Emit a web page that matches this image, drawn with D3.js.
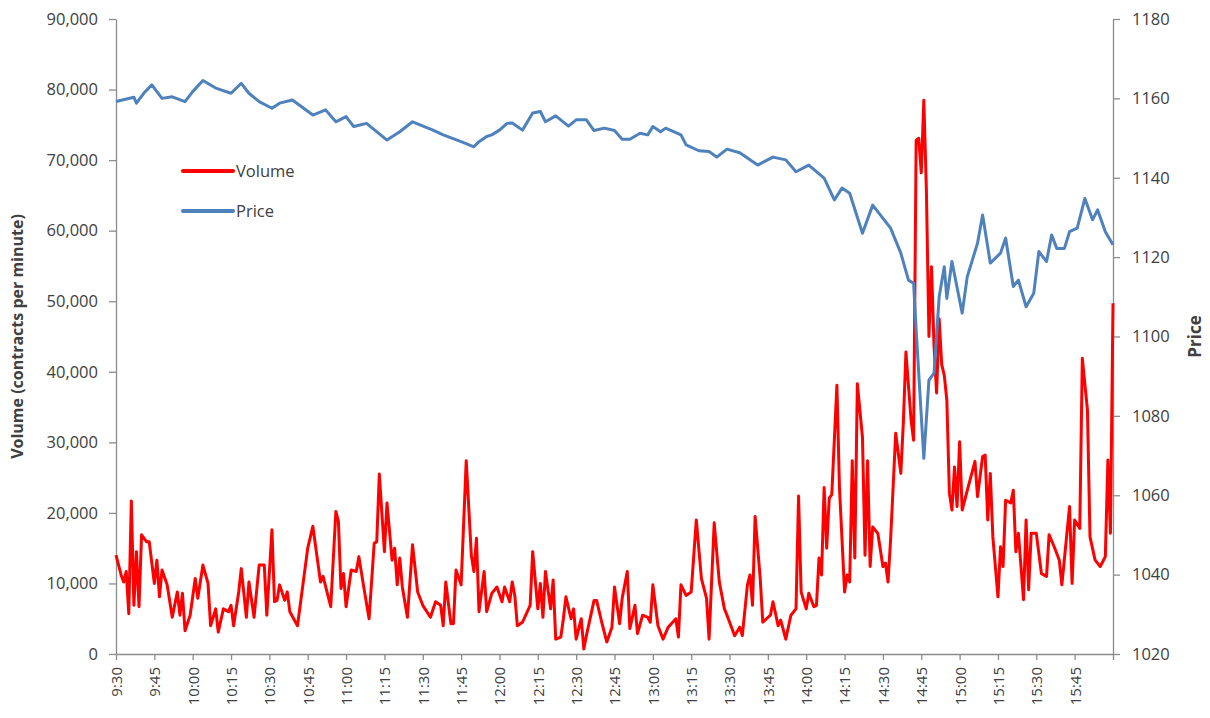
<!DOCTYPE html>
<html><head><meta charset="utf-8">
<script src="https://cdn.jsdelivr.net/npm/d3@7"></script>
<style>
body{margin:0;background:#fff}
svg{display:block}
text{font-family:"Open Sans","Liberation Sans",sans-serif;fill:#404040}
</style>
</head><body>
<svg id="chart" width="1210" height="718"></svg>
<script>
// ---- DATA ----
// x-axis tick labels (every 15 minutes from the 9:30 open)
const timeTickLabels = ["9:30","9:45","10:00","10:15","10:30","10:45","11:00","11:15","11:30","11:45","12:00","12:15","12:30","12:45","13:00","13:15","13:30","13:45","14:00","14:15","14:30","14:45","15:00","15:15","15:30","15:45"];
const volumeTicks = [0,10000,20000,30000,40000,50000,60000,70000,80000,90000];
const priceTicks = [1020,1040,1060,1080,1100,1120,1140,1160,1180];

// Volume series: minutes after 9:30, contracts per minute
const volumeMinutes = [0,2,3,4,5,6,7,8,9,10,12,13,15,16,17,18,20,22,24,25,26,27,29,31,32,34,36,37,39,40,42,44,45,46,48,49,51,52,54,56,58,59,61,62,63,64,66,67,68,71,75,77,80,81,84,86,87,88,89,90,92,94,95,97,99,101,102,103,105,106,108,109,110,111,112,114,116,118,120,123,125,127,128,129,131,132,133,135,137,139,140,141,142,144,145,147,149,151,152,154,155,156,157,159,162,163,165,166,167,168,170,171,172,174,175,176,178,179,180,182,183,184,187,188,190,192,194,195,197,198,200,201,203,204,206,208,209,210,212,214,216,219,220,221,223,225,227,229,231,232,234,236,238,239,242,244,245,247,248,249,250,252,253,256,257,259,260,262,264,266,267,268,270,271,273,274,275,276,277,278,279,280,282,283,285,286,287,288,289,290,292,293,294,295,296,298,300,301,302,303,305,307,308,309,311,312,313,314,315,316,317,318,319,320,321,322,323,324,325,326,327,328,329,330,331,333,336,337,339,340,341,342,343,345,346,347,348,350,351,352,353,355,356,357,358,360,362,364,365,367,369,370,373,374,375,377,378,380,381,383,385,387,388,389,390];
const volumeValues = [14000,11200,10200,11700,5700,21700,6900,14500,6700,16900,15900,15900,10000,13300,8100,11900,9800,5200,8800,5500,8600,3300,5500,10700,7900,12600,10000,4000,6400,3100,6400,6000,6900,4000,8800,12100,5200,10200,5200,12600,12600,5500,17600,7400,7600,9800,7600,8800,6000,4000,15000,18100,10200,11000,6700,20200,18800,9300,11400,6700,11900,11700,13800,9300,5000,15700,15900,25500,14500,21400,13300,15000,9800,13600,9500,5200,15500,8800,6900,5200,7400,6900,4000,10200,4300,4300,11900,9800,27400,14000,11700,16400,6000,11700,6000,8600,9500,7400,9500,7400,10200,8300,4000,4500,6900,14500,6400,10000,5200,11700,6400,10500,2100,2400,5000,8100,5000,6400,2100,5000,700,2600,7600,7600,4500,1700,3800,9500,4300,7900,11700,3600,6900,2900,5500,5200,4500,9800,4000,2100,3800,5000,2400,9800,8300,8800,19000,10700,7900,2100,18600,10200,6400,5500,2600,3800,2600,9800,11200,6900,19500,10700,4500,5500,7400,4000,4800,2100,5500,6400,22400,8800,6400,8600,6700,6900,13600,11200,23600,15000,22100,22600,38100,23600,8800,11200,10200,27400,13600,38300,30700,14000,27400,12400,18000,17100,12400,12900,10200,16200,31300,25600,32900,42800,33200,30300,72800,73100,68200,78500,65800,45000,54900,43600,37000,47500,41000,39500,36000,22800,20400,26500,20900,30100,20400,23200,27300,22300,28000,28200,19000,25600,16600,8100,15200,12400,21800,21400,23200,14500,17100,7700,19000,9100,17100,17100,11400,11000,16900,15200,13300,9800,20900,10000,19000,17800,41900,34600,16600,13300,12400,13800,27500,17100,49700];

// Price series: minutes after 9:30, index level
const priceMinutes = [0,7,8,11,14,18,22,27,30,34,39,45,49,52,56,61,64,69,77,82,86,90,93,98,106,111,116,124,128,135,140,142,145,147,150,153,155,159,163,166,168,172,177,180,184,187,191,195,198,201,205,208,210,213,215,221,223,228,232,235,239,244,251,257,262,266,271,277,281,284,287,292,296,303,307,310,312,313,316,318,320,322,324,325,327,331,333,337,339,342,346,348,351,353,356,359,361,364,366,368,371,373,376,379,382,384,387,390];
const priceValues = [1159.2,1160.3,1158.8,1161.4,1163.4,1160,1160.4,1159.2,1161.7,1164.5,1162.6,1161.3,1163.8,1161.3,1159.2,1157.5,1158.8,1159.6,1155.8,1157.1,1154.1,1155.4,1152.9,1153.7,1149.5,1151.6,1154.1,1152,1150.8,1149.1,1147.8,1149.1,1150.4,1150.8,1152,1153.7,1153.8,1152,1156.3,1156.7,1154.1,1155.6,1153,1154.6,1154.6,1151.9,1152.5,1151.9,1149.7,1149.7,1151.2,1150.8,1152.9,1151.6,1152.5,1150.8,1148.3,1146.8,1146.6,1145.2,1147.2,1146.3,1143.2,1145.2,1144.5,1141.5,1143.2,1139.9,1134.4,1137.4,1136.1,1126,1133.1,1127.3,1121,1114.2,1113.4,1101.6,1069.3,1089,1090.8,1110,1117.6,1109.6,1118.9,1105.9,1115.1,1123.5,1130.6,1118.5,1121,1124.8,1112.6,1114.2,1107.5,1110.9,1121.4,1118.9,1125.6,1122.2,1122.2,1126.4,1127.3,1134.8,1129.4,1131.9,1126.4,1123.1];

const seriesNames = ["Volume","Price"];
const seriesColors = ["#ff0000","#4f81bd"];

// ---- CHART ----
const svg = d3.select("#chart");
const plotLeft = 116, plotRight = 1113, plotTop = 19, plotBottom = 654;
const sessionMinutes = timeTickLabels.length * 15; // 390

const x = d3.scaleLinear().domain([0, sessionMinutes]).range([plotLeft, plotRight]);
const yV = d3.scaleLinear().domain([0, 90000]).range([plotBottom, plotTop]);
const yP = d3.scaleLinear().domain([1020, 1180]).range([plotBottom, plotTop]);

const axisColor = "#8c8c8c";

const gL = svg.append("g").attr("transform", `translate(${plotLeft},0)`)
  .call(d3.axisLeft(yV).tickValues(volumeTicks).tickFormat(d3.format(",")).tickSize(7).tickSizeOuter(0).tickPadding(11));
const gR = svg.append("g").attr("transform", `translate(${plotRight},0)`)
  .call(d3.axisRight(yP).tickValues(priceTicks).tickFormat(d3.format("d")).tickSize(7).tickSizeOuter(0).tickPadding(12));
const xTickVals = d3.range(0, sessionMinutes + 1, 15);
const gB = svg.append("g").attr("transform", `translate(0,${plotBottom})`)
  .call(d3.axisBottom(x).tickValues(xTickVals).tickFormat((d, i) => timeTickLabels[i] || "").tickSize(6).tickSizeOuter(0));

[gL, gR, gB].forEach(g => {
  g.select(".domain").attr("stroke", axisColor).attr("stroke-width", 1.3);
  g.selectAll(".tick line").attr("stroke", axisColor).attr("stroke-width", 1.3);
  g.selectAll("text").attr("fill", "#404040").style("font-family", '"Open Sans",sans-serif');
});
gL.selectAll("text").style("font-size", "16.5px");
gR.selectAll("text").style("font-size", "16.5px");
gB.selectAll("text")
  .style("font-size", "15px")
  .attr("transform", "rotate(-90)")
  .attr("text-anchor", "end")
  .attr("x", -13)
  .attr("y", 0)
  .attr("dy", "0.36em");

svg.append("text")
  .attr("transform", `translate(23,${(plotTop + plotBottom) / 2}) rotate(-90)`)
  .attr("text-anchor", "middle")
  .style("font-size", "16px").style("font-weight", "bold")
  .text("Volume (contracts per minute)");
svg.append("text")
  .attr("transform", `translate(1201,${(plotTop + plotBottom) / 2}) rotate(-90)`)
  .attr("text-anchor", "middle")
  .style("font-size", "17px").style("font-weight", "bold")
  .text("Price");

const volData = volumeMinutes.map((m, i) => [m, volumeValues[i]]);
const priceData = priceMinutes.map((m, i) => [m, priceValues[i]]);

svg.append("path").datum(volData)
  .attr("fill", "none").attr("stroke", seriesColors[0]).attr("stroke-width", 3)
  .attr("stroke-linejoin", "round")
  .attr("d", d3.line().x(d => x(d[0])).y(d => yV(d[1])));

svg.append("path").datum(priceData)
  .attr("fill", "none").attr("stroke", seriesColors[1]).attr("stroke-width", 3)
  .attr("stroke-linejoin", "round")
  .attr("d", d3.line().x(d => x(d[0])).y(d => yP(d[1])));

const legend = svg.append("g");
seriesNames.forEach((name, i) => {
  const ly = 171 + i * 40;
  legend.append("line").attr("x1", 183).attr("x2", 233).attr("y1", ly).attr("y2", ly)
    .attr("stroke", seriesColors[i]).attr("stroke-width", 4).attr("stroke-linecap", "round");
  legend.append("text").attr("x", 236).attr("y", ly).attr("dy", "0.35em")
    .style("font-size", "16.5px").text(name);
});
</script>
</body></html>
